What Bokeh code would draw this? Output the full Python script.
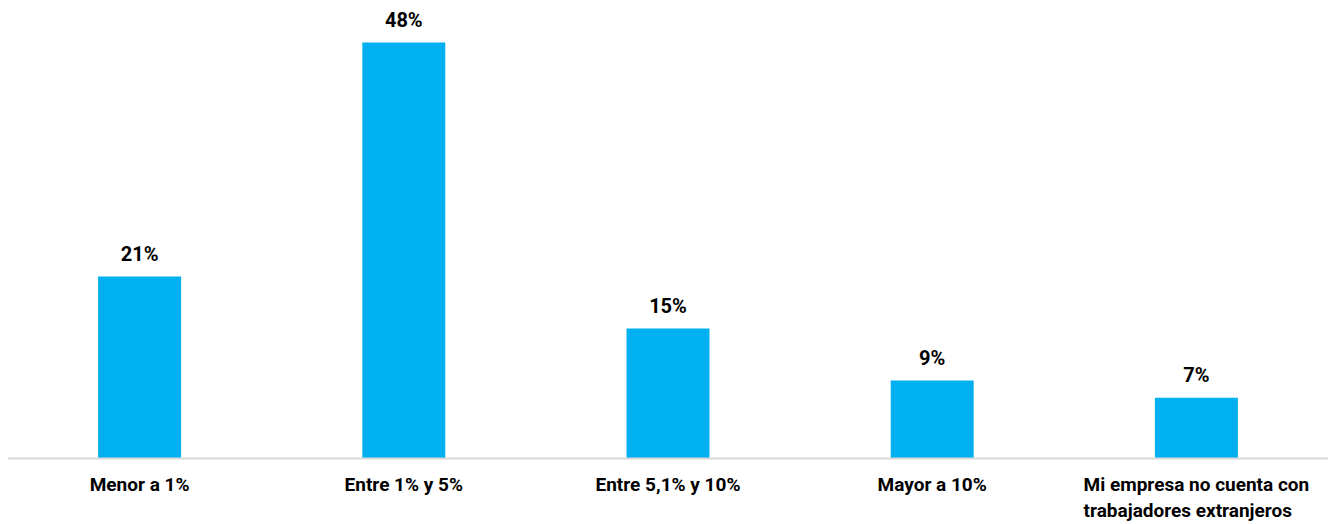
from bokeh.plotting import figure
from bokeh.models import ColumnDataSource, LabelSet, Range1d, Span
from bokeh.core.properties import value
from bokeh.embed import file_html
from bokeh.resources import INLINE

categories = ["Menor a 1%", "Entre 1% y 5%", "Entre 5,1% y 10%", "Mayor a 10%",
              "Mi empresa no cuenta con\ntrabajadores extranjeros"]
values = [21, 48, 15, 9, 7]
value_labels = ["21%", "48%", "15%", "9%", "7%"]

FONT = "Roboto"
BLUE = "#00B0F0"

src = ColumnDataSource(dict(cat=categories, val=values, lab=value_labels,
                            base=[0] * len(values)))

p = figure(x_range=categories, y_range=Range1d(-7.615, 52.85), width=1328, height=524,
           output_backend="svg", toolbar_location=None,
           min_border_left=7, min_border_right=0, min_border_top=0, min_border_bottom=0)

p.vbar(x="cat", top="val", width=0.314, source=src, color=BLUE, line_color=None)

p.add_layout(Span(location=0, dimension="width", line_color="#d9d9d9", line_width=2))

labels = LabelSet(x="cat", y="val", text="lab", source=src, y_offset=16,
                  text_align="center", text_baseline="alphabetic",
                  text_font=value(FONT), text_font_style=value("bold"),
                  text_font_size=value("20px"), text_color="#000000")
p.add_layout(labels)

cat_labels = LabelSet(x="cat", y="base", text="cat", source=src, y_offset=-14,
                      text_align="center", text_baseline="top",
                      text_font=value(FONT), text_font_style=value("bold"),
                      text_font_size=value("19px"),
                      text_color="#000000", text_line_height=1.16)
p.add_layout(cat_labels)

p.outline_line_color = None
p.grid.grid_line_color = None
p.xaxis.visible = False
p.yaxis.visible = False
p.x_range.range_padding = 0

open("out.html", "w").write(file_html(p, INLINE))
